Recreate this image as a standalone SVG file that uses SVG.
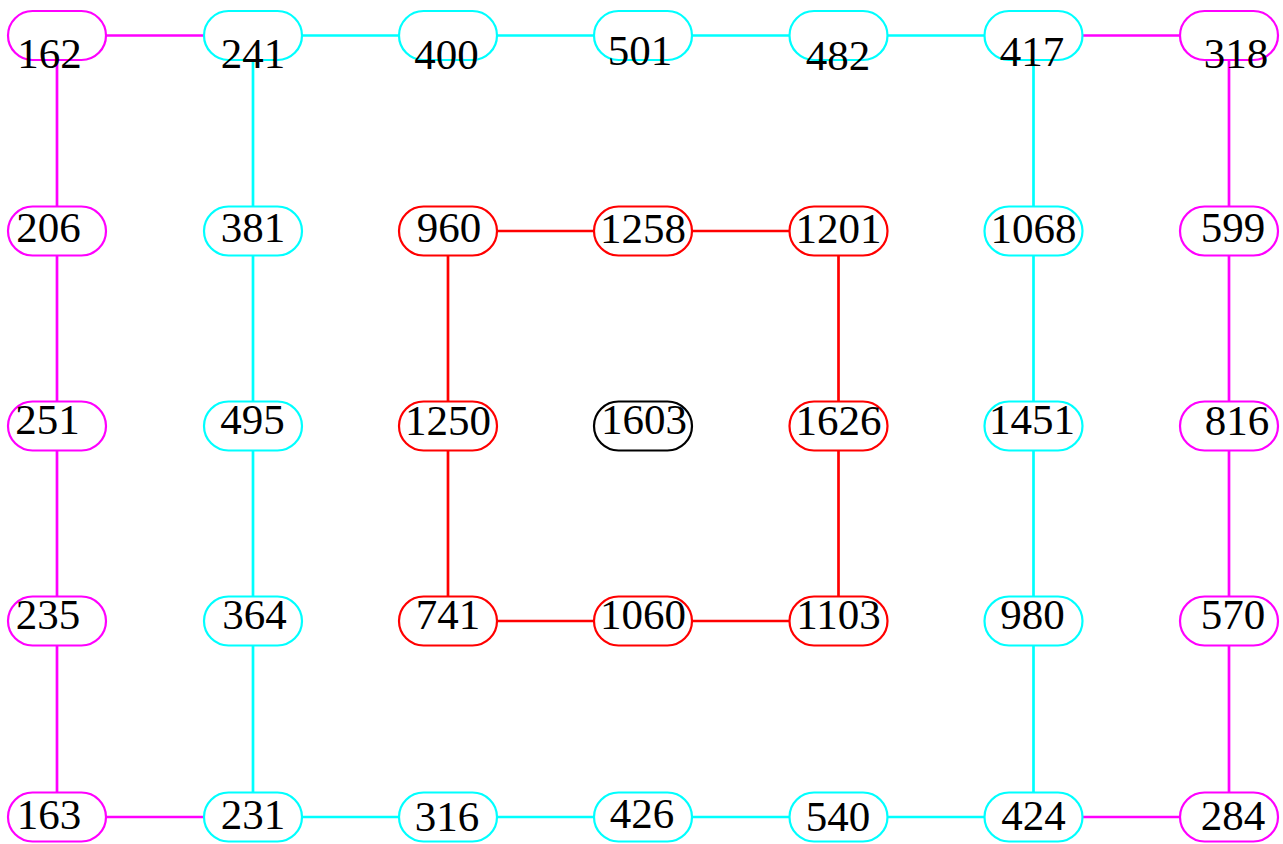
<svg xmlns="http://www.w3.org/2000/svg" width="1283" height="844" viewBox="0 0 1283 844">
<style>
.n rect{fill:#fff;stroke-width:2.2}
.m rect{stroke:#ff00ff}.c rect{stroke:#00ffff}.r rect{stroke:#ff0000}.k rect{stroke:#000}
text{font-family:"Liberation Serif","Times New Roman",serif;font-size:43px;fill:#000;text-anchor:middle}
#edges line{stroke-width:2.7}
.em{stroke:#ff00ff}.ec{stroke:#00ffff}.er{stroke:#ff0000}
</style>
<rect width="1283" height="844" fill="#fff"/>
<g id="edges">
<line class="em" x1="57" y1="35.5" x2="253" y2="35.5"/>
<line class="ec" x1="253" y1="35.5" x2="1033.5" y2="35.5"/>
<line class="em" x1="1033.5" y1="35.5" x2="1229" y2="35.5"/>
<line class="em" x1="57" y1="817" x2="253" y2="817"/>
<line class="ec" x1="253" y1="817" x2="1033.5" y2="817"/>
<line class="em" x1="1033.5" y1="817" x2="1229" y2="817"/>
<line class="em" x1="57" y1="35.5" x2="57" y2="817"/>
<line class="ec" x1="253" y1="35.5" x2="253" y2="817"/>
<line class="ec" x1="1033.5" y1="35.5" x2="1033.5" y2="817"/>
<line class="em" x1="1229" y1="35.5" x2="1229" y2="817"/>
<line class="er" x1="448" y1="231" x2="838.5" y2="231"/>
<line class="er" x1="448" y1="621" x2="838.5" y2="621"/>
<line class="er" x1="448" y1="231" x2="448" y2="621"/>
<line class="er" x1="838.5" y1="231" x2="838.5" y2="621"/>
</g>
<g id="n162" class="n m"><rect x="8" y="11" width="98" height="49" rx="24.5"/><text x="49.5" y="68">162</text></g>
<g id="n241" class="n c"><rect x="204" y="11" width="98" height="49" rx="24.5"/><text x="253" y="68">241</text></g>
<g id="n400" class="n c"><rect x="399" y="11" width="98" height="49" rx="24.5"/><text x="446.5" y="68.5">400</text></g>
<g id="n501" class="n c"><rect x="594" y="11" width="98" height="49" rx="24.5"/><text x="640" y="65">501</text></g>
<g id="n482" class="n c"><rect x="789.5" y="11" width="98" height="49" rx="24.5"/><text x="838" y="70">482</text></g>
<g id="n417" class="n c"><rect x="984.5" y="11" width="98" height="49" rx="24.5"/><text x="1032" y="66">417</text></g>
<g id="n318" class="n m"><rect x="1180" y="11" width="98" height="49" rx="24.5"/><text x="1236" y="67.5">318</text></g>

<g id="n206" class="n m"><rect x="8" y="206.5" width="98" height="49" rx="24.5"/><text x="48.5" y="242">206</text></g>
<g id="n381" class="n c"><rect x="204" y="206.5" width="98" height="49" rx="24.5"/><text x="253" y="242">381</text></g>
<g id="n960" class="n r"><rect x="399" y="206.5" width="98" height="49" rx="24.5"/><text x="449" y="242">960</text></g>
<g id="n1258" class="n r"><rect x="594" y="206.5" width="98" height="49" rx="24.5"/><text x="643" y="243">1258</text></g>
<g id="n1201" class="n r"><rect x="789.5" y="206.5" width="98" height="49" rx="24.5"/><text x="838.5" y="243">1201</text></g>
<g id="n1068" class="n c"><rect x="984.5" y="206.5" width="98" height="49" rx="24.5"/><text x="1033.5" y="243">1068</text></g>
<g id="n599" class="n m"><rect x="1180" y="206.5" width="98" height="49" rx="24.5"/><text x="1233" y="242">599</text></g>

<g id="n251" class="n m"><rect x="8" y="401.5" width="98" height="49" rx="24.5"/><text x="47.5" y="434">251</text></g>
<g id="n495" class="n c"><rect x="204" y="401.5" width="98" height="49" rx="24.5"/><text x="252.5" y="434">495</text></g>
<g id="n1250" class="n r"><rect x="399" y="401.5" width="98" height="49" rx="24.5"/><text x="448" y="435">1250</text></g>
<g id="n1603" class="n k"><rect x="594" y="401.5" width="98" height="49" rx="24.5"/><text x="644" y="433.5">1603</text></g>
<g id="n1626" class="n r"><rect x="789.5" y="401.5" width="98" height="49" rx="24.5"/><text x="838.5" y="435">1626</text></g>
<g id="n1451" class="n c"><rect x="984.5" y="401.5" width="98" height="49" rx="24.5"/><text x="1032" y="433.5">1451</text></g>
<g id="n816" class="n m"><rect x="1180" y="401.5" width="98" height="49" rx="24.5"/><text x="1237" y="435">816</text></g>

<g id="n235" class="n m"><rect x="8" y="596.5" width="98" height="49" rx="24.5"/><text x="48" y="628.5">235</text></g>
<g id="n364" class="n c"><rect x="204" y="596.5" width="98" height="49" rx="24.5"/><text x="254.5" y="628.5">364</text></g>
<g id="n741" class="n r"><rect x="399" y="596.5" width="98" height="49" rx="24.5"/><text x="448" y="629">741</text></g>
<g id="n1060" class="n r"><rect x="594" y="596.5" width="98" height="49" rx="24.5"/><text x="643" y="629">1060</text></g>
<g id="n1103" class="n r"><rect x="789.5" y="596.5" width="98" height="49" rx="24.5"/><text x="838.5" y="629">1103</text></g>
<g id="n980" class="n c"><rect x="984.5" y="596.5" width="98" height="49" rx="24.5"/><text x="1032.5" y="628.5">980</text></g>
<g id="n570" class="n m"><rect x="1180" y="596.5" width="98" height="49" rx="24.5"/><text x="1233" y="629">570</text></g>

<g id="n163" class="n m"><rect x="8" y="792.5" width="98" height="49" rx="24.5"/><text x="49" y="828.5">163</text></g>
<g id="n231" class="n c"><rect x="204" y="792.5" width="98" height="49" rx="24.5"/><text x="253" y="828.5">231</text></g>
<g id="n316" class="n c"><rect x="399" y="792.5" width="98" height="49" rx="24.5"/><text x="447" y="831">316</text></g>
<g id="n426" class="n c"><rect x="594" y="792.5" width="98" height="49" rx="24.5"/><text x="642" y="828">426</text></g>
<g id="n540" class="n c"><rect x="789.5" y="792.5" width="98" height="49" rx="24.5"/><text x="838" y="831">540</text></g>
<g id="n424" class="n c"><rect x="984.5" y="792.5" width="98" height="49" rx="24.5"/><text x="1033.5" y="830">424</text></g>
<g id="n284" class="n m"><rect x="1180" y="792.5" width="98" height="49" rx="24.5"/><text x="1233" y="830">284</text></g>
</svg>
